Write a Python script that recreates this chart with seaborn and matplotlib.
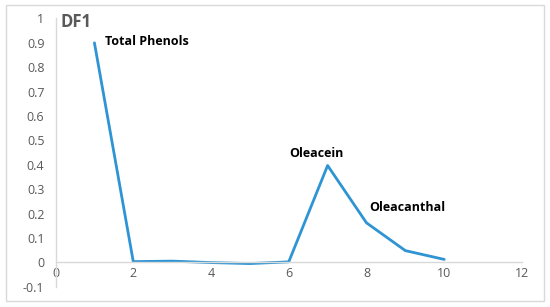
import matplotlib
matplotlib.use("Agg")
import matplotlib.pyplot as plt
import seaborn as sns
import pandas as pd
from matplotlib.patches import Rectangle

x_vals = [1, 2, 3, 4, 5, 6, 7, 8, 9, 10]
df1_vals = [0.90, 0.003, 0.005, -0.001, -0.005, 0.002, 0.397, 0.162, 0.048, 0.012]
x_ticks = [0, 2, 4, 6, 8, 10, 12]
y_ticks = [-0.1, 0, 0.1, 0.2, 0.3, 0.4, 0.5, 0.6, 0.7, 0.8, 0.9, 1]
annotations = [("Total Phenols", 1.27, 0.904), ("Oleacein", 6.70, 0.447), ("Oleacanthal", 8.07, 0.225)]

sns.set_theme(style="white")
plt.rcParams['font.family'] = ['Open Sans', 'DejaVu Sans']

df = pd.DataFrame({"x": x_vals, "DF1": df1_vals})

fig = plt.figure(figsize=(5.5, 3.07), dpi=100)
ax = fig.add_axes([0.101, 0.066, 0.848, 0.874])
sns.lineplot(data=df, x="x", y="DF1", ax=ax, color="#2E94D3", linewidth=2.0)

ax.set_xlim(0, 12)
ax.set_ylim(-0.1, 1)
ax.set_xticks(x_ticks)
ax.set_yticks(y_ticks)
ax.set_xticklabels([str(t) for t in x_ticks])
ax.set_yticklabels([("%g" % t) for t in y_ticks])
ax.set_xlabel("")
ax.set_ylabel("")
ax.tick_params(axis="both", length=0, labelsize=9, colors="#595959")
ax.tick_params(axis="y", pad=8)
ax.tick_params(axis="x", pad=3)

for s in ["top", "right"]:
    ax.spines[s].set_visible(False)
ax.spines["bottom"].set_position(("data", 0))
ax.spines["bottom"].set_color("#D9D9D9")
ax.spines["left"].set_color("#D9D9D9")
ax.spines["bottom"].set_linewidth(1.0)
ax.spines["left"].set_linewidth(1.0)

ax.text(0.14, 0.985, "DF1", fontsize=12, fontweight="bold", color="#595959", va="center", ha="left")
for label, xx, yy in annotations:
    ha = "center" if label == "Oleacein" else "left"
    ax.text(xx, yy, label, fontsize=9, fontweight="bold", color="black", ha=ha, va="center")

fig.patches.append(Rectangle((6/550, 6/307), 538/550, 296/307, transform=fig.transFigure,
                             fill=False, edgecolor="#D9D9D9", linewidth=1.0))

fig.savefig("out.png", dpi=100)
